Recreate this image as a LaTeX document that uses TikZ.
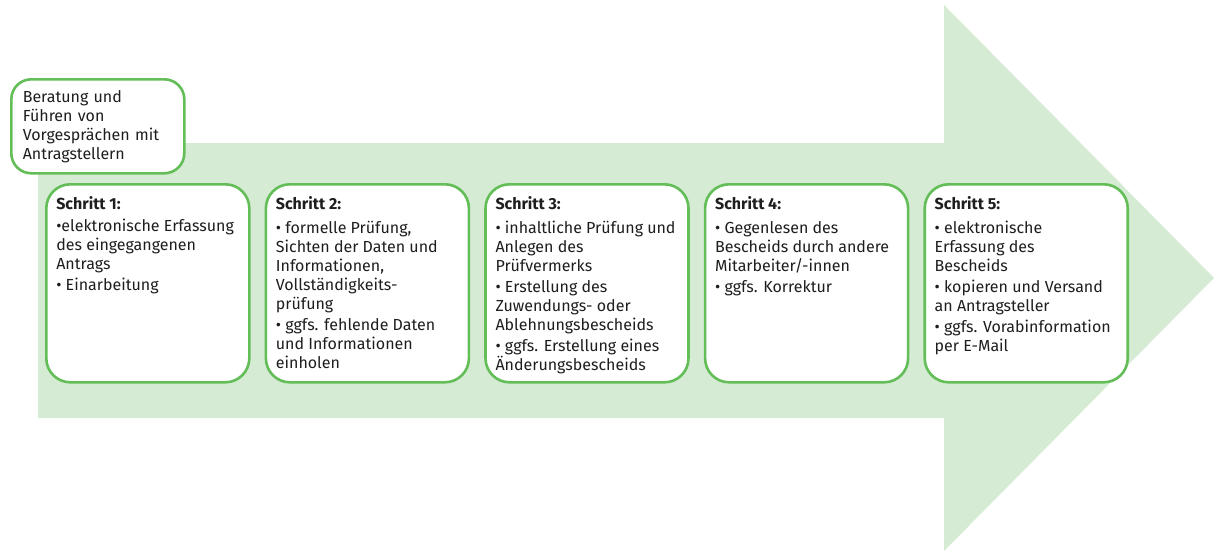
\documentclass[tikz,border=0pt]{standalone}
\usepackage{fontspec}
\setmainfont{Fira Sans}
\usepackage{tikz}
\usetikzlibrary{positioning}
\definecolor{PaleGreen}{RGB}{213,235,212}
\definecolor{LineGreen}{RGB}{99,190,88}
\definecolor{TextGray}{RGB}{30,30,30}

% bullet item with hanging indent
\newcommand{\punkt}[1]{\par\vspace{2pt}\hangindent=8pt\hangafter=1\textbullet\ #1}
\newcommand{\schritt}[2]{\begin{minipage}[c][178pt][t]{183pt}\raggedright
  \vspace*{2pt}\textbf{#1}\par\vspace{3pt}#2\end{minipage}}

\begin{document}
\begin{tikzpicture}[x=1pt,y=-1pt,
  font=\fontsize{16}{19}\selectfont\color{TextGray},
  stepbox/.style={draw=LineGreen, line width=2.6pt, fill=white,
    rounded corners=24pt, inner sep=10pt, anchor=north west}]
\useasboundingbox (0,0) rectangle (1214,551);
% big arrow in the back
\fill[PaleGreen] (38,143) -- (944,143) -- (944,5) -- (1214,278) -- (944,551)
  -- (944,418) -- (38,418) -- cycle;

\node[stepbox, rounded corners=20pt, inner sep=0pt, minimum width=173pt,
  minimum height=94pt, text width=150pt, align=left] (beratung) at (10,78)
  {Beratung und\\Führen von\\Vorgesprächen mit\\Antragstellern};

\node[stepbox] (s1) at (45,183) {\schritt{Schritt 1:}{%
  \par\hangindent=7pt\hangafter=1\textbullet elektronische Erfassung\\des eingegangenen\\Antrags
  \punkt{Einarbeitung}}};
\node[stepbox, right=14pt of s1.north east, anchor=north west] (s2) {\schritt{Schritt 2:}{%
  \punkt{formelle Prüfung,\\Sichten der Daten und\\Informationen,\\Vollständigkeits-\\prüfung}
  \punkt{ggfs. fehlende Daten\\und Informationen\\einholen}}};
\node[stepbox, right=14pt of s2.north east, anchor=north west] (s3) {\schritt{Schritt 3:}{%
  \punkt{inhaltliche Prüfung und\\Anlegen des\\Prüfvermerks}
  \punkt{Erstellung des\\Zuwendungs- oder\\Ablehnungsbescheids}
  \punkt{ggfs. Erstellung eines\\Änderungsbescheids}}};
\node[stepbox, right=14pt of s3.north east, anchor=north west] (s4) {\schritt{Schritt 4:}{%
  \punkt{Gegenlesen des\\Bescheids durch andere\\Mitarbeiter/-innen}
  \punkt{ggfs. Korrektur}}};
\node[stepbox, right=14pt of s4.north east, anchor=north west] (s5) {\schritt{Schritt 5:}{%
  \punkt{elektronische\\Erfassung des\\Bescheids}
  \punkt{kopieren und Versand\\an Antragsteller}
  \punkt{ggfs. Vorabinformation\\per E-Mail}}};
\end{tikzpicture}
\end{document}
